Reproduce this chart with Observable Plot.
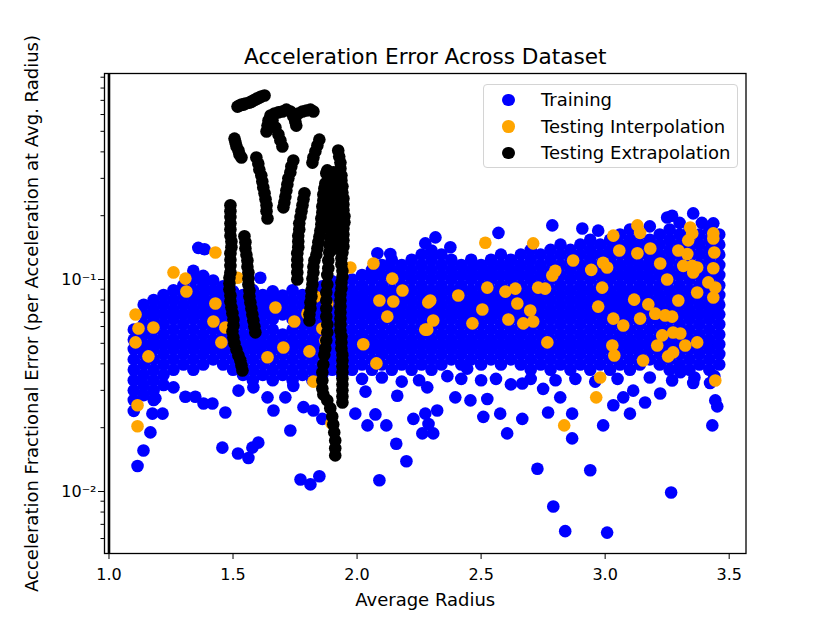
<!DOCTYPE html>
<html><head><meta charset="utf-8">
<script src="https://cdn.jsdelivr.net/npm/d3@7"></script>
<script src="https://cdn.jsdelivr.net/npm/@observablehq/plot@0.6"></script>
<style>
body{margin:0;background:#fff;}
#wrap{position:relative;width:830px;height:623px;font-family:"DejaVu Sans",sans-serif;}
#wrap svg{display:block;}
#legend{position:absolute;left:483px;top:84px;width:255px;height:84px;border:1px solid #d4d4d4;border-radius:4px;background:rgba(255,255,255,0.85);box-sizing:border-box;font-size:18px;color:#000;}
.lrow{position:absolute;left:0;width:100%;height:24px;}
.ldot{position:absolute;left:18px;top:5.5px;width:12.6px;height:12.6px;border-radius:50%;}
.ltxt{position:absolute;left:57px;top:0;line-height:24px;white-space:nowrap;}
</style></head>
<body><div id="wrap"></div>
<script>
const title = "Acceleration Error Across Dataset";
const xLabel = "Average Radius";
const yLabel = "Acceleration Fractional Error (per Acceleration at Avg. Radius)";
const xTicks = [1.0, 1.5, 2.0, 2.5, 3.0, 3.5];
const yMajor = [0.01, 0.1];
const yMajorLabels = ["10⁻²", "10⁻¹"];
const yMinor = [0.006,0.007,0.008,0.009,0.02,0.03,0.04,0.05,0.06,0.07,0.08,0.09,0.2,0.3,0.4,0.5,0.6,0.7,0.8,0.9];
const refLines = [1.0];
const seriesNames = ["Training", "Testing Interpolation", "Testing Extrapolation"];
const seriesColors = ["blue", "orange", "black"];

// Training: columns of [x, [y values]]
const trainingColsA = [
[1.10,[.024,.027,.030,.0335,.0375,.042,.047,.052,.058]],
[1.14,[.0285,.0318,.0355,.0397,.0445,.0495,.055,.0615,.0685,.076]],
[1.18,[.027,.030,.0335,.0375,.042,.047,.052,.058,.065,.072,.080]],
[1.22,[.0318,.0355,.0397,.0445,.0495,.055,.0615,.0685,.076,.0845]],
[1.26,[.0375,.042,.047,.052,.058,.065,.072,.080,.089]],
[1.30,[.0397,.0445,.0495,.055,.0615,.0685,.076,.0845,.094]],
[1.34,[.0375,.042,.047,.052,.058,.065,.072,.080,.089,.100,.110]],
[1.38,[.0397,.0445,.0495,.055,.0615,.0685,.076,.0845,.094,.104]],
[1.42,[.042,.047,.052,.058,.065,.072,.080,.089,.099]],
[1.46,[.0397,.0445,.0495,.055,.0615,.0685,.076,.0845,.093]],
[1.50,[.0375,.042,.047,.052,.058,.065,.072,.080,.088]],
[1.54,[.0355,.0397,.0445,.0495,.055,.0615,.0685,.076,.0845]],
[1.58,[.0335,.0375,.042,.047,.052,.058,.065,.072,.080,.089]]
];
const trainingColsB = [
[1.62,[.0355,.0397,.0445,.0495,.055,.0615,.0685,.076,.0845]],
[1.66,[.0335,.0375,.042,.047,.052,.058,.065,.072,.080,.088]],
[1.70,[.0355,.0397,.0445,.0495,.055,.0685,.076,.084]],
[1.74,[.0335,.0375,.042,.047,.052,.058,.065,.072,.080,.089]],
[1.78,[.0355,.0397,.0445,.0495,.055,.0615,.0685,.076,.0845]],
[1.82,[.0335,.0375,.042,.047,.052,.058,.065,.072,.080,.089]],
[1.86,[.0355,.0397,.0445,.0495,.055,.0615,.0685,.076,.0845,.093]],
[1.90,[.0375,.042,.047,.052,.058,.065,.072,.080,.089,.098]],
[1.94,[.0355,.0397,.0445,.0495,.055,.0615,.0685,.076,.0845,.094]],
[1.98,[.0375,.042,.047,.052,.058,.065,.072,.080,.089,.100]],
[2.02,[.0397,.0445,.0495,.055,.0615,.0685,.076,.0845,.094,.105]],
[2.06,[.0375,.042,.047,.052,.058,.065,.072,.080,.089,.100,.111]],
[2.10,[.0397,.0445,.0495,.055,.0615,.0685,.076,.0845,.094,.105,.117]],
[2.14,[.0375,.042,.047,.052,.058,.065,.072,.080,.089,.100,.111,.124]],
[2.18,[.0397,.0445,.0495,.055,.0615,.0685,.076,.0845,.094,.105,.117]],
[2.22,[.0375,.042,.047,.052,.058,.065,.072,.080,.089,.100,.111,.124]],
[2.26,[.0397,.0445,.0495,.055,.0615,.0685,.076,.0845,.094,.105,.117,.131]],
[2.30,[.0375,.042,.047,.052,.058,.065,.072,.080,.089,.100,.111,.124,.137]],
[2.34,[.0397,.0445,.0495,.055,.0615,.0685,.076,.0845,.094,.105,.117,.131]],
[2.38,[.042,.047,.052,.058,.065,.072,.080,.089,.100,.111,.124]]
];
const trainingColsC = [
[2.42,[.0397,.0445,.0495,.055,.0615,.0685,.076,.0845,.094,.105,.117]],
[2.46,[.042,.047,.052,.058,.065,.072,.080,.089,.100,.111,.124]],
[2.50,[.0397,.0445,.0495,.055,.0615,.0685,.076,.0845,.094,.105,.117]],
[2.54,[.042,.047,.052,.058,.065,.072,.080,.089,.100,.111,.124]],
[2.58,[.0397,.0445,.0495,.055,.0615,.0685,.076,.0845,.094,.105,.117,.131]],
[2.62,[.042,.047,.052,.058,.065,.072,.080,.089,.100,.111,.124]],
[2.66,[.0397,.0445,.0495,.055,.0615,.0685,.076,.0845,.094,.105,.117,.131]],
[2.70,[.0375,.042,.047,.052,.058,.065,.072,.080,.089,.100,.111,.124,.138]],
[2.74,[.0397,.0445,.0495,.055,.0615,.0685,.076,.0845,.094,.105,.117,.131]],
[2.78,[.0375,.042,.047,.052,.058,.065,.072,.080,.089,.100,.111,.124,.138]],
[2.82,[.0397,.0445,.0495,.055,.0615,.0685,.076,.0845,.094,.105,.117,.131,.146]],
[2.86,[.0375,.042,.047,.052,.058,.065,.072,.080,.089,.100,.111,.124,.138]],
[2.90,[.0397,.0445,.0495,.055,.0615,.0685,.076,.0845,.094,.105,.117,.131,.146]],
[2.94,[.0375,.042,.047,.052,.058,.065,.072,.080,.089,.100,.111,.124,.138,.154]]
];
const trainingColsD = [
[2.98,[.0397,.0445,.0495,.055,.0615,.0685,.076,.0845,.094,.105,.117,.131,.146]],
[3.02,[.0375,.042,.047,.052,.058,.065,.072,.080,.089,.100,.111,.124,.138,.154]],
[3.06,[.0397,.0445,.0495,.055,.0615,.0685,.076,.0845,.094,.105,.117,.131,.146,.163]],
[3.10,[.0375,.042,.047,.052,.058,.065,.072,.080,.089,.100,.111,.124,.138,.154]],
[3.14,[.0397,.0445,.0495,.055,.0615,.0685,.076,.0845,.094,.105,.117,.131,.146,.163]],
[3.18,[.042,.047,.052,.058,.065,.072,.080,.089,.100,.111,.124,.138,.154]],
[3.22,[.0397,.0445,.0495,.055,.0615,.0685,.076,.0845,.094,.105,.117,.131,.146,.163]],
[3.26,[.0375,.042,.047,.052,.058,.065,.072,.080,.089,.100,.111,.124,.138,.154,.172]],
[3.30,[.0397,.0445,.0495,.055,.0615,.0685,.076,.0845,.094,.105,.117,.131,.146,.163]],
[3.34,[.0375,.042,.047,.052,.058,.065,.072,.080,.089,.100,.111,.124,.138,.154,.172]],
[3.38,[.0397,.0445,.0495,.055,.0615,.0685,.076,.0845,.094,.105,.117,.131,.146,.163]],
[3.42,[.0375,.042,.047,.052,.058,.065,.072,.080,.089,.100,.111,.124,.138,.154,.172]],
[3.46,[.0397,.0445,.0495,.055,.0615,.0685,.076,.0845,.094,.105,.117,.131,.146,.163]]
];
const trainingScatter = [
[1.115,.0132],[1.139,.0156],[1.167,.019],[1.175,.0233],[1.216,.0233],[1.187,.0275],[1.26,.031],[1.308,.028],[1.348,.028],[1.381,.026],[1.417,.026],[1.469,.0236],[1.457,.0161],[1.52,.0151],[1.562,.0144],[1.578,.0161],[1.602,.017],[1.731,.0194],[1.772,.0114],[1.812,.0108],[1.848,.0118],[2.09,.0113],[2.158,.0168],[2.199,.0139],[2.042,.0205],[2.034,.0296],[2.074,.0231],[2.118,.0205],[1.663,.0241],[1.639,.0278],[1.582,.031],[1.522,.0299],[1.711,.0278],[1.743,.0315],[1.784,.025],[1.824,.0241],[1.86,.022],[1.993,.0233],[2.162,.0283],[2.227,.022],[2.263,.0188],[2.288,.0208],[2.396,.0278],[2.457,.0269],[2.525,.0273],[2.509,.0225],[2.577,.0233],[2.605,.0188],[2.666,.022],[2.666,.0323],[2.75,.0305],[2.77,.0236],[2.819,.0278],[2.867,.0233],[2.867,.0178],[2.992,.0205],[3.033,.0255],[3.1,.0233],[3.073,.0278],[3.113,.0299],[3.161,.0263],[3.222,.029],[3.27,.0334],[3.303,.0365],[3.355,.0325],[3.432,.0205],[3.444,.0269],[3.452,.0252],[3.423,.0325],[2.275,.0233],[2.323,.0241],[2.307,.0188],[2.364,.035],[2.283,.031],[2.444,.038],[2.791,.0085],[2.839,.0065],[3.008,.0064],[3.266,.0099],[2.727,.0128],[2.94,.0126],
[2.02,.034],[2.1,.0345],[2.18,.033],[2.25,.0335],[2.42,.034],[2.5,.0335],[2.56,.034],[2.62,.032],[2.7,.034],[2.8,.0335],[2.88,.034],[2.96,.033],[3.05,.034],[3.18,.0345],[3.36,.0345],[3.44,.035],
[1.36,.141],[1.385,.139],[2.316,.158],[2.787,.18],[2.908,.174],[2.972,.17],[3.25,.196],[3.27,.2],[3.355,.205],[3.436,.184],[2.57,.166],[2.082,.133],[2.134,.132],[2.275,.148],[2.376,.142],[3.1,.172],[3.18,.178],[3.3,.185],[3.39,.185],[1.61,.102]
];

const interpolationPts = [
[1.429,.134],[1.26,.108],[1.308,.101],[1.312,.0878],[1.518,.102],[1.429,.0771],[1.671,.0738],[1.107,.0684],[1.119,.0587],[1.107,.0505],[1.179,.0594],[1.421,.0634],[1.469,.0594],[1.453,.0505],[1.159,.0434],[1.639,.043],[1.703,.0478],[1.747,.0634],[1.8,.069],[1.808,.0458],[1.832,.0832],[1.88,.0771],[1.86,.0587],[1.872,.0515],[1.824,.033],[1.973,.114],[2.066,.119],[2.142,.101],[2.183,.0887],[2.09,.0796],[2.146,.0788],[2.122,.0668],[2.025,.0495],[2.078,.0402],[2.287,.078],[2.275,.058],[1.115,.0255],[1.115,.0203],[1.897,.021],
[2.517,.149],[2.71,.148],[2.295,.0796],[2.307,.0641],[2.283,.058],[2.408,.084],[2.525,.0916],[2.505,.0722],[2.465,.0621],[2.598,.0877],[2.638,.0906],[2.646,.0771],[2.61,.0648],[2.67,.0621],[2.698,.0714],[2.71,.0634],[2.73,.0916],[2.758,.0906],[2.787,.1045],[2.799,.110],[2.767,.0505],[2.871,.123],[2.944,.111],[2.992,.12],[3.008,.114],[2.988,.0916],[2.972,.0745],[3.033,.161],[3.057,.137],[3.13,.18],[3.141,.166],[3.13,.133],[3.182,.14],[3.222,.119],[3.25,.100],[3.117,.0804],[3.174,.0763],[3.141,.0654],[3.033,.0654],[3.073,.0607],[3.202,.069],[3.242,.0677],[3.27,.0668],[3.295,.0796],[3.295,.137],[3.331,.132],[3.315,.116],[3.351,.116],[3.371,.114],[3.343,.176],[3.351,.165],[3.335,.153],[3.436,.165],[3.436,.156],[3.44,.134],[3.436,.113],[3.416,.0969],[3.444,.0917],[3.436,.0822],[3.371,.0868],[3.355,.108],[3.23,.0545],[3.274,.0562],[3.303,.0556],[3.21,.0488],[3.274,.0453],[3.254,.0434],[3.323,.0488],[3.371,.0505],[3.029,.0488],[3.037,.0438],[3.153,.0415],[2.98,.0345],[2.964,.0278],[2.835,.0205],[3.444,.0334]
];

const extrapolationArcs = [
[1.518,.654],[1.526,.661],[1.534,.668],[1.542,.668],[1.55,.676],[1.566,.683],[1.574,.690],[1.582,.698],[1.59,.706],[1.598,.714],[1.606,.722],[1.614,.730],[1.627,.738],
[1.635,.499],[1.639,.532],[1.643,.562],[1.651,.594],[1.667,.607],[1.683,.614],
[1.659,.562],[1.671,.521],[1.683,.483],[1.691,.453],[1.699,.424],
[1.699,.620],[1.715,.633],[1.731,.620],[1.743,.588],[1.751,.556],[1.755,.532],
[1.763,.607],[1.78,.620],[1.796,.627],[1.812,.633],[1.824,.620],
[1.506,.462],[1.51,.443],[1.514,.424],[1.522,.406],[1.526,.389],[1.534,.376],
[1.594,.376],[1.602,.352],[1.606,.330],[1.614,.310],[1.618,.290],[1.622,.272],[1.627,.255],[1.631,.239],[1.635,.224],[1.635,.210],[1.639,.194],
[1.743,.364],[1.735,.341],[1.731,.320],[1.723,.300],[1.719,.281],[1.715,.263],[1.711,.246],[1.707,.231],[1.703,.219],
[1.848,.457],[1.84,.429],[1.832,.402],[1.824,.376],[1.82,.356],
[1.788,.255],[1.784,.239],[1.78,.224],[1.776,.210],[1.772,.197],[1.767,.184],[1.767,.172],[1.763,.161],[1.763,.151],[1.763,.142],[1.759,.133],[1.759,.124],[1.759,.116],[1.759,.108],[1.759,.100]
];
const extrapolationRight = [
[1.924,.406],[1.928,.380],[1.933,.356],[1.933,.334],[1.937,.310],[1.937,.293],[1.941,.275],[1.941,.257],[1.945,.241],[1.945,.226],[1.945,.212],[1.949,.199],[1.949,.186],[1.945,.174],[1.945,.163],[1.945,.153],[1.945,.143],[1.941,.134],[1.937,.126],[1.937,.118],[1.941,.110],[1.941,.103],[1.937,.0968],[1.937,.0907],[1.933,.0849],[1.933,.0796],[1.933,.0746],[1.933,.0699],[1.933,.0655],[1.933,.0614],[1.933,.0575],[1.937,.0539],[1.937,.0505],[1.937,.0473],[1.941,.0442],[1.941,.0415],[1.941,.0389],[1.941,.0364],[1.941,.0341],[1.941,.0320],[1.941,.0300],[1.941,.0281],[1.941,.0263],
[1.88,.327],[1.876,.317],[1.872,.284],[1.868,.269],[1.864,.252],[1.864,.236],[1.86,.221],[1.86,.207],[1.856,.194],[1.856,.182],[1.852,.170],[1.848,.159],[1.844,.150],[1.84,.140],[1.836,.131],[1.828,.123],[1.824,.115],[1.824,.108],[1.82,.101],[1.82,.0947],[1.816,.0887],[1.816,.0831],[1.812,.0779],[1.812,.0730],[1.808,.0684],[1.808,.0641],
[1.904,.320],[1.904,.293],[1.90,.269],[1.90,.246],[1.896,.226],[1.896,.207],[1.892,.190],[1.892,.174],[1.892,.159],[1.888,.146],[1.888,.134],[1.884,.123],[1.884,.113],[1.88,.105],[1.88,.0947],[1.876,.0868],[1.876,.0796],[1.876,.0730],[1.876,.0669],[1.88,.0614],[1.88,.0563],[1.876,.0516],[1.872,.0473],[1.868,.0442],[1.864,.0397],[1.86,.0364],[1.86,.0334],[1.86,.0306],[1.864,.0287],[1.88,.0269],[1.892,.0247],[1.90,.0226],[1.904,.0207],[1.908,.0190],[1.912,.0174],[1.912,.0160],[1.912,.0148],
[1.916,.317],[1.916,.281],[1.92,.257],[1.92,.236],[1.92,.216],[1.92,.199],[1.92,.182],[1.916,.166],[1.916,.153],[1.912,.140]
];
const extrapolationLeft = [
[1.4895,.224],[1.4895,.210],[1.4895,.197],[1.4895,.184],[1.4895,.172],[1.4895,.161],[1.4935,.151],[1.4935,.142],[1.4895,.133],[1.4895,.124],[1.4895,.116],[1.4895,.108],[1.4855,.102],[1.4855,.0957],[1.4855,.0897],[1.4895,.0841],[1.4895,.0788],[1.4935,.0739],[1.4976,.0693],[1.5016,.0648],[1.5016,.0607],[1.4976,.0569],[1.5016,.0533],[1.5056,.0500],[1.5137,.0467],[1.5217,.0438],[1.5298,.0415],[1.534,.0393],[1.538,.0372],
[1.546,.160],[1.55,.150],[1.55,.140],[1.554,.131],[1.558,.123],[1.558,.115],[1.562,.108],[1.562,.101],[1.562,.0947],[1.566,.0887],[1.566,.0831],[1.57,.0779],[1.574,.0730],[1.578,.0684],[1.582,.0641],[1.586,.0601],[1.59,.0563]
];

const pairs = a => a.map(([x, y]) => ({x, y}));
const cols = c => c.flatMap(([x, ys]) => ys.map(y => ({x, y})));
const training = [...cols(trainingColsA), ...cols(trainingColsB), ...cols(trainingColsC), ...cols(trainingColsD), ...pairs(trainingScatter)];
const interpolation = pairs(interpolationPts);
const extrapolation = [...pairs(extrapolationArcs), ...pairs(extrapolationRight), ...pairs(extrapolationLeft)];

const R = 6.3;
const chart = Plot.plot({
  width: 830, height: 623,
  marginLeft: 104, marginRight: 84.5, marginTop: 73, marginBottom: 70,
  style: {fontFamily: "'DejaVu Sans', sans-serif", fontSize: "16px", background: "white", color: "black", overflow: "visible"},
  x: {domain: [0.9819, 3.5678]},
  y: {type: "log", domain: [0.0051, 0.937]},
  marks: [
    Plot.dot(training, {x: "x", y: "y", r: R, fill: seriesColors[0], stroke: "none"}),
    Plot.dot(interpolation, {x: "x", y: "y", r: R, fill: seriesColors[1], stroke: "none"}),
    Plot.dot(extrapolation, {x: "x", y: "y", r: R, fill: seriesColors[2], stroke: "none"}),
    Plot.ruleX(refLines, {stroke: "black", strokeWidth: 2.6}),
    Plot.frame({stroke: "black", strokeWidth: 1.3}),
    Plot.axisX(xTicks, {tickSize: 6, tickPadding: 9, tickFormat: d3.format(".1f"), label: null, fontSize: 16}),
    Plot.axisY(yMajor, {tickSize: 6, tickPadding: 2, tickFormat: d => yMajorLabels[yMajor.indexOf(d)], label: null, fontSize: 16}),
    Plot.axisY(yMinor, {tickSize: 3.5, tickFormat: () => "", label: null}),
    Plot.text([xLabel], {text: d => d, frameAnchor: "bottom", lineAnchor: "middle", dy: 47, fontSize: 18}),
    Plot.text([yLabel], {text: d => d, frameAnchor: "left", textAnchor: "middle", lineAnchor: "middle", dx: -72, rotate: -90, fontSize: 18}),
    Plot.text([title], {text: d => d, frameAnchor: "top", lineAnchor: "middle", dy: -16, fontSize: 21.6})
  ]
});
const wrap = document.getElementById("wrap");
wrap.appendChild(chart);
const legend = document.createElement("div");
legend.id = "legend";
seriesNames.forEach((name, i) => {
  const row = document.createElement("div");
  row.className = "lrow";
  row.style.top = (3 + i * 26.5) + "px";
  const dot = document.createElement("span");
  dot.className = "ldot";
  dot.style.background = seriesColors[i];
  const txt = document.createElement("span");
  txt.className = "ltxt";
  txt.textContent = name;
  row.appendChild(dot); row.appendChild(txt);
  legend.appendChild(row);
});
wrap.appendChild(legend);
</script>
</body></html>
